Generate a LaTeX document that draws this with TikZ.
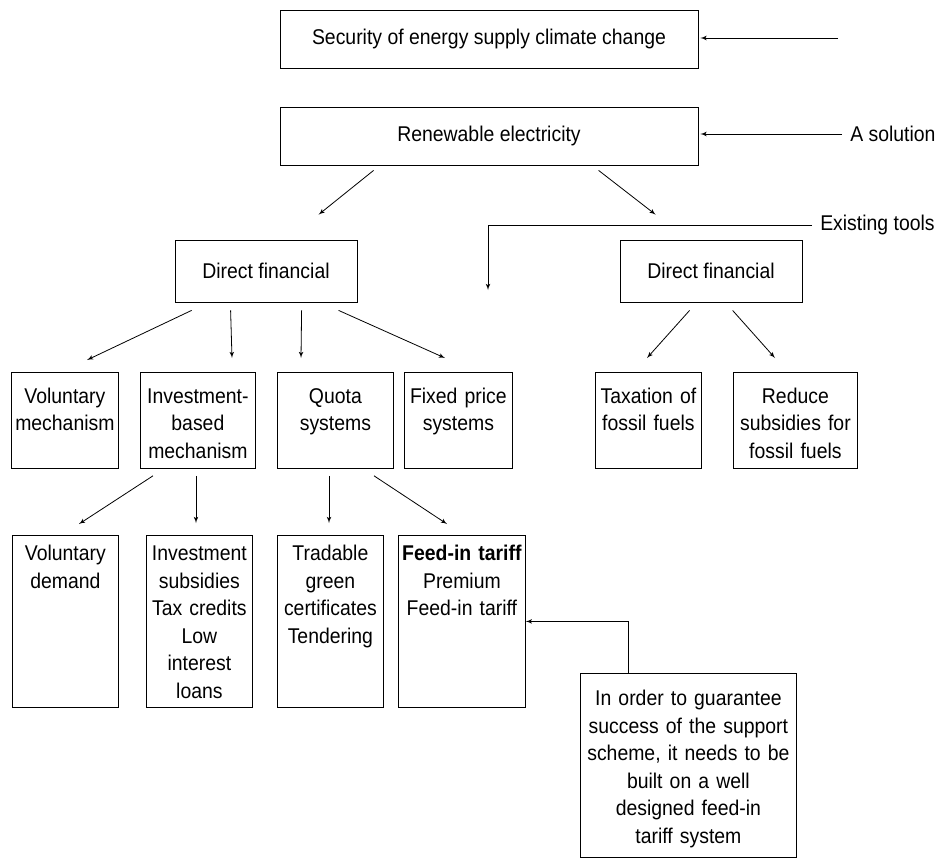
\documentclass[tikz,border=0pt]{standalone}
\usepackage{fontspec}
\setmainfont{Liberation Sans}[FakeStretch=0.91]
\usetikzlibrary{arrows,calc}
\newdimen\pxu \pxu=0.75pt
\tikzset{
    topbox/.style={rectangle, draw=black, line width=0.6pt, minimum width=418\pxu, minimum height=58\pxu, inner sep=0pt},
    midbox/.style={rectangle, draw=black, line width=0.6pt, minimum width=182\pxu, minimum height=62\pxu, inner sep=0pt},
    listbox/.style={rectangle, draw=black, line width=0.6pt, anchor=north west, inner sep=0pt, align=center},
    rowtwo/.style={listbox, text height=31\pxu, text depth=65\pxu},
    rowthree/.style={listbox, text height=25.5\pxu, text depth=146.5\pxu},
    myarrow/.style={->, >=latex', line width=0.6pt},
    mylabel/.style={anchor=west, inner xsep=8\pxu, inner ysep=0pt}
}
\begin{document}
\begin{tikzpicture}[x=0.75pt, y=-0.75pt, font=\fontsize{16pt}{20.6pt}\selectfont]
    \useasboundingbox (0,0) rectangle (935,858);
    \draw (489,39) node[topbox] (security) {Security of energy supply climate change};
    \draw (489,136) node[topbox] (renew) {Renewable electricity};
    \draw (266,271) node[midbox] (dfleft) {Direct financial};
    \draw (711,271) node[midbox] (dfright) {Direct financial};
    \draw (842,134) node[mylabel] (solution) {A solution};
    \draw (812,225) node[mylabel] (tools) {Existing tools};
    \coordinate (secin) at (838,38);
    \coordinate (toolsend) at (488,290);
    % second row
    \draw (11,372) node[rowtwo, text width=107\pxu] (volmech) {Voluntary\\mechanism};
    \draw (140,372) node[rowtwo, text width=115\pxu] (invmech) {Investment-\\based\\mechanism};
    \draw (277,372) node[rowtwo, text width=116\pxu] (quota) {Quota\\systems};
    \draw (404,372) node[rowtwo, text width=108\pxu] (fixed) {Fixed price\\systems};
    \draw (595,372) node[rowtwo, text width=106\pxu] (taxation) {Taxation of\\fossil fuels};
    \draw (733,372) node[rowtwo, text width=124\pxu] (reduce) {Reduce\\subsidies for\\fossil fuels};
    % third row
    \draw (12,535) node[rowthree, text width=106\pxu] (voldemand) {Voluntary\\demand};
    \draw (146,535) node[rowthree, text width=106\pxu] (invsub) {Investment\\subsidies\\Tax credits\\Low\\interest\\loans};
    \draw (277,535) node[rowthree, text width=106\pxu] (tradable) {Tradable\\green\\certificates\\Tendering};
    \draw (398,535) node[rowthree, text width=127\pxu] (feedin) {\textbf{Feed-in tariff}\\Premium\\Feed-in tariff};
    \draw (580,673) node[listbox, text width=216\pxu, text height=32.5\pxu, text depth=151\pxu] (note) {In order to guarantee\\success of the support\\scheme, it needs to be\\built on a well\\designed feed-in\\tariff system};
    % connectors
    \draw[myarrow, shorten >=1.5pt] (secin) -- (secin -| security.east);
    \draw[myarrow, shorten >=1.5pt] (solution.west) -- (solution.west -| renew.east);
    \draw[myarrow] (tools.west) -| (toolsend);
    \draw[myarrow] ($(renew.south west)+(94,5)$) -- ($(dfleft.north west)+(144,-25)$);
    \draw[myarrow] ($(renew.south west)+(319,5)$) -- ($(dfright.north west)+(36,-25)$);
    \draw[myarrow] ($(dfleft.south west)+(17,8)$) -- ($(volmech.north west)+(76,-12)$);
    \draw[myarrow] ($(dfleft.south west)+(56,8)$) -- ($(invmech.north west)+(92,-14)$);
    \draw[myarrow] ($(dfleft.south west)+(127,8)$) -- ($(quota.north west)+(24,-14)$);
    \draw[myarrow] ($(dfleft.south west)+(164,8)$) -- ($(fixed.north west)+(41,-14)$);
    \draw[myarrow] ($(dfright.south west)+(70,8)$) -- ($(taxation.north west)+(52,-14)$);
    \draw[myarrow] ($(dfright.south west)+(113,8)$) -- ($(reduce.north west)+(42,-14)$);
    \draw[myarrow] ($(invmech.south west)+(13,7)$) -- ($(voldemand.north west)+(67,-11)$);
    \draw[myarrow] ($(invmech.south west)+(56,7)$) -- ($(invsub.north west)+(50,-12)$);
    \draw[myarrow] ($(quota.south west)+(52,7)$) -- ($(tradable.north west)+(52,-12)$);
    \draw[myarrow] ($(quota.south west)+(97,7)$) -- ($(feedin.north west)+(49,-11)$);
    \draw[myarrow] ($(note.north west)+(48,0)$) |- (feedin.east);
\end{tikzpicture}
\end{document}
